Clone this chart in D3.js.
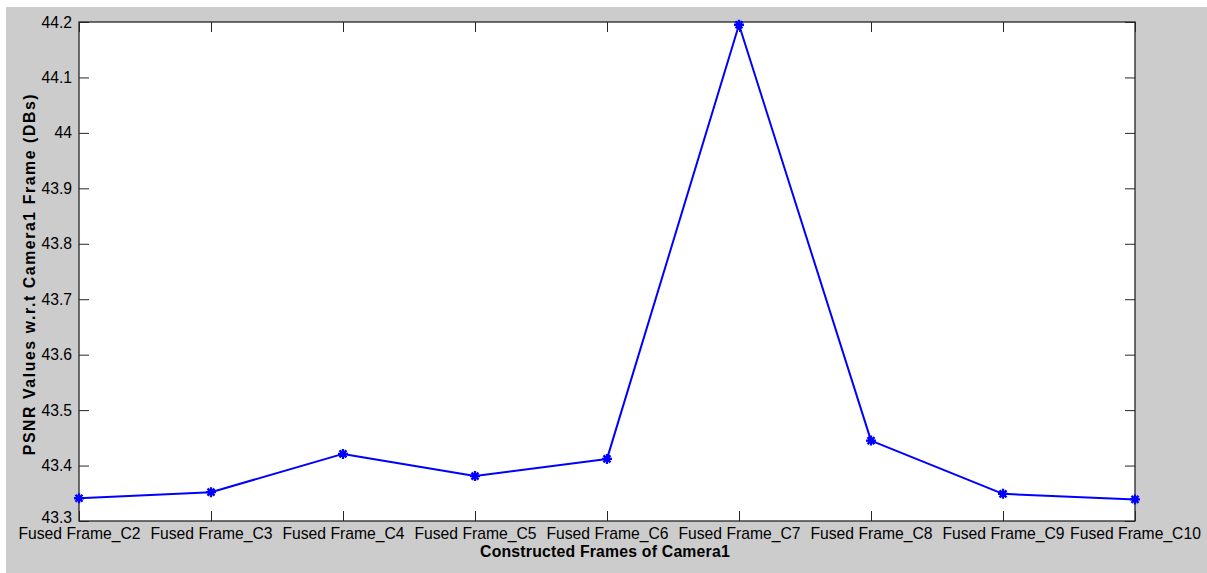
<!DOCTYPE html>
<html>
<head>
<meta charset="utf-8">
<script src="https://cdn.jsdelivr.net/npm/d3@7"></script>
<style>
  html, body { margin: 0; padding: 0; background: #ffffff; }
  svg { display: block; }
  text { font-family: Arial, "Liberation Sans", sans-serif; fill: #000; }
</style>
</head>
<body>
<svg id="chart" width="1207" height="573"></svg>
<script>
// PSNR of each fused frame measured against the Camera1 frame
const frames = ["Fused Frame_C2", "Fused Frame_C3", "Fused Frame_C4", "Fused Frame_C5",
                "Fused Frame_C6", "Fused Frame_C7", "Fused Frame_C8", "Fused Frame_C9",
                "Fused Frame_C10"];
const psnr = [43.341, 43.352, 43.421, 43.381, 43.412, 44.195, 43.445, 43.349, 43.339];
const yTicks = [43.3, 43.4, 43.5, 43.6, 43.7, 43.8, 43.9, 44, 44.1, 44.2];
const xTitle = "Constructed Frames of Camera1";
const yTitle = "PSNR Values w.r.t Camera1 Frame (DBs)";

const svg = d3.select("#chart");
const W = 1207, H = 573;
const plot = { left: 79, top: 22, right: 1135, bottom: 521 };
const bg = "#cccccc";

// figure background
svg.append("rect").attr("x", 6).attr("y", 7).attr("width", W - 6).attr("height", H - 7)
   .attr("fill", bg);

const x = d3.scalePoint().domain(frames).range([plot.left, plot.right]);
const y = d3.scaleLinear().domain([43.3, 44.2]).range([plot.bottom, plot.top]);

// axes area
svg.append("rect")
   .attr("x", plot.left).attr("y", plot.top)
   .attr("width", plot.right - plot.left).attr("height", plot.bottom - plot.top)
   .attr("fill", "#ffffff");

const tickLen = 10;
const axisColor = "#262626";

// left axis
const gy = svg.append("g").attr("transform", `translate(${plot.left},0)`)
  .call(d3.axisLeft(y).tickValues(yTicks).tickFormat(d3.format("~g"))
        .tickSizeInner(-tickLen).tickSizeOuter(0).tickPadding(7));
gy.selectAll("text").attr("font-size", "15.7px");
// lowest label rests on the x axis so it clears the category labels
gy.selectAll(".tick text").filter(d => d === yTicks[0]).attr("dy", "0.08em");

// right mirrored ticks
svg.append("g").attr("transform", `translate(${plot.right},0)`)
  .call(d3.axisRight(y).tickValues(yTicks).tickSizeInner(-tickLen).tickSizeOuter(0).tickFormat(""));

// bottom axis with inward ticks
const gx = svg.append("g").attr("transform", `translate(0,${plot.bottom})`)
  .call(d3.axisBottom(x).tickSizeInner(-tickLen).tickSizeOuter(0).tickPadding(7));
gx.selectAll("text").attr("font-size", "15.7px").attr("dy", "0.71em");
// top mirrored ticks
svg.append("g").attr("transform", `translate(0,${plot.top})`)
  .call(d3.axisTop(x).tickSizeInner(-tickLen).tickSizeOuter(0).tickFormat(""));

svg.selectAll(".domain").remove();
svg.selectAll(".tick line").attr("stroke", axisColor);

// box around axes
svg.append("rect")
   .attr("x", plot.left).attr("y", plot.top)
   .attr("width", plot.right - plot.left).attr("height", plot.bottom - plot.top)
   .attr("fill", "none").attr("stroke", axisColor).attr("stroke-width", 1.3);

// data line
const line = d3.line().x((d, i) => x(frames[i])).y(d => y(d));
svg.append("path").datum(psnr)
   .attr("d", line).attr("fill", "none")
   .attr("stroke", "#0000ff").attr("stroke-width", 2).attr("stroke-linejoin", "round");

// asterisk markers
const r = 5;
const star = `M${-r},0L${r},0M0,${-r}L0,${r}` +
             `M${-r * 0.7},${-r * 0.7}L${r * 0.7},${r * 0.7}M${-r * 0.7},${r * 0.7}L${r * 0.7},${-r * 0.7}`;
svg.append("g").selectAll("path").data(psnr).join("path")
   .attr("transform", (d, i) => `translate(${x(frames[i])},${y(d)})`)
   .attr("d", star).attr("fill", "none")
   .attr("stroke", "#0000ff").attr("stroke-width", 2.3);

// axis titles
svg.append("text")
   .attr("x", (plot.left + plot.right) / 2 - 2).attr("y", 557)
   .attr("text-anchor", "middle").attr("font-size", "15.8px").attr("font-weight", "bold")
   .attr("letter-spacing", "0.2px")
   .text(xTitle);
svg.append("text")
   .attr("transform", `translate(35,274) rotate(-90)`)
   .attr("text-anchor", "middle").attr("font-size", "15.8px").attr("font-weight", "bold")
   .attr("letter-spacing", "1.6px")
   .text(yTitle);
</script>
</body>
</html>
